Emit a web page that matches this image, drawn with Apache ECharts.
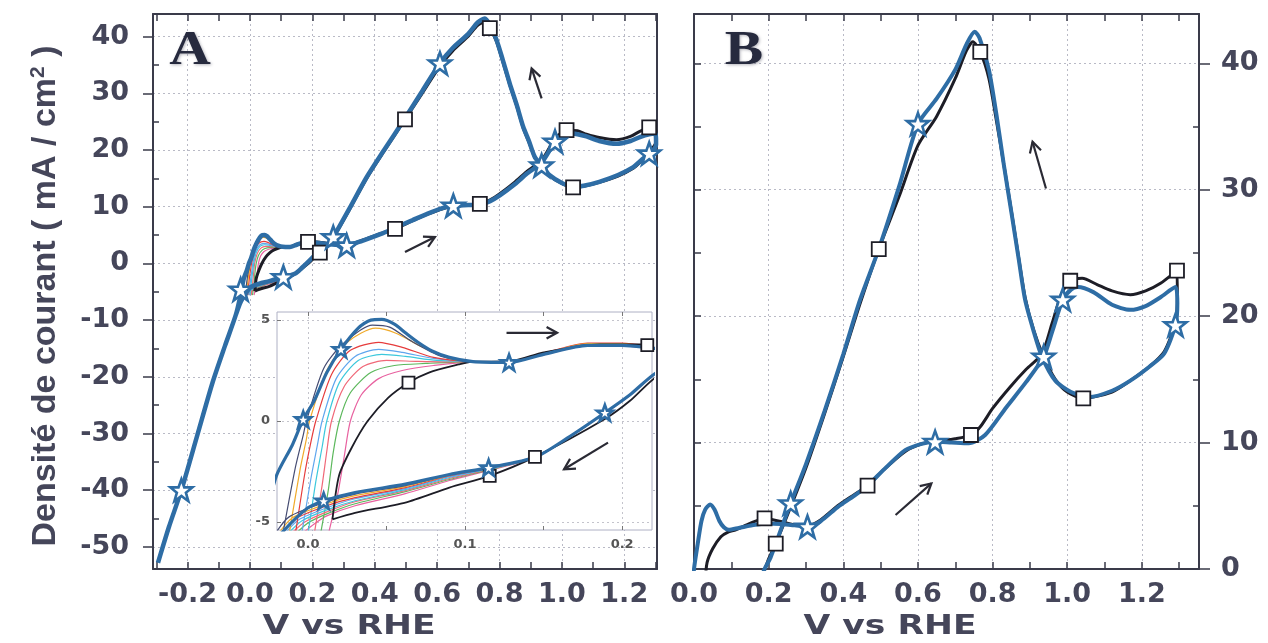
<!DOCTYPE html>
<html><head><meta charset="utf-8">
<script src="https://cdn.jsdelivr.net/npm/echarts@6/dist/echarts.min.js"></script>
<style>html,body{margin:0;padding:0;background:#fff}#c{width:1268px;height:643px}</style>
</head><body><div id="c"></div>
<script>
// ---------------- DATA ----------------
// Panel A ticks / labels
const A_XLABELS = [-0.2, 0.0, 0.2, 0.4, 0.6, 0.8, 1.0, 1.2];
const A_XTICKS = [-0.3, -0.2, -0.1, 0.0, 0.1, 0.2, 0.3, 0.4, 0.5, 0.6, 0.7, 0.8, 0.9, 1.0, 1.1, 1.2, 1.3];
const A_YLABELS = [-50, -40, -30, -20, -10, 0, 10, 20, 30, 40];
const A_YMINOR = [-45, -35, -25, -15, -5, 5, 15, 25, 35];
// Panel B ticks / labels
const B_XLABELS = [0.0, 0.2, 0.4, 0.6, 0.8, 1.0, 1.2];
const B_XTICKS = [0.1, 0.2, 0.3, 0.4, 0.5, 0.6, 0.7, 0.8, 0.9, 1.0, 1.1, 1.2, 1.3];
const B_YLABELS = [0, 10, 20, 30, 40];
const B_YMINOR = [5, 15, 25, 35];
const B_YLEFT = [5, 10, 15, 20, 25, 30, 35, 40];
const B_YGRID = [10, 20, 30, 40];
// Inset ticks / labels
const IN_XLABELS = [0.0, 0.1, 0.2];
const IN_XTICKS = [0.0, 0.05, 0.1, 0.15, 0.2];
const IN_YLABELS = [-5, 0, 5];

// Panel A: final cycle (blue) and first cycle (black), [V, mA/cm2]
const A_BLUE = [[-0.295,-52.8],[-0.26,-46.5],[-0.22,-40.0],[-0.17,-30.5],[-0.12,-21.0],[-0.08,-14.5],[-0.045,-9.0],[-0.03,-5.5],[-0.02,-2.7],[-0.01,-1.2],[-0.003,0.08],[0.004,1.0],[0.012,2.4],[0.021,3.55],[0.032,4.6],[0.040,5.0],[0.047,5.03],[0.055,4.8],[0.062,4.37],[0.070,3.9],[0.079,3.47],[0.090,3.15],[0.105,2.94],[0.128,2.9],[0.150,3.3],[0.178,3.75],[0.20,3.75],[0.22,3.6],[0.25,3.4],[0.31,3.18],[0.36,4.0],[0.42,5.2],[0.465,6.3],[0.52,7.6],[0.57,8.8],[0.62,9.8],[0.652,10.2],[0.70,10.3],[0.737,10.4],[0.77,11.0],[0.801,12.0],[0.85,14.0],[0.887,15.8],[0.935,17.8],[0.978,21.5],[1.0,22.6],[1.02,23.0],[1.05,22.8],[1.079,22.4],[1.12,21.6],[1.175,21.1],[1.22,21.6],[1.25,22.3],[1.28,22.8],[1.30,22.9],[1.302,21.0],[1.29,19.7],[1.28,19.4],[1.25,18.0],[1.229,17.0],[1.18,15.6],[1.12,14.4],[1.07,13.7],[1.036,13.5],[1.0,14.2],[0.96,15.6],[0.935,17.3],[0.913,18.8],[0.895,21.5],[0.876,24.1],[0.855,28.0],[0.833,31.7],[0.81,36.0],[0.79,39.5],[0.77,42.0],[0.753,43.2],[0.73,42.5],[0.70,40.5],[0.65,38.0],[0.609,35.3],[0.55,30.2],[0.497,25.6],[0.43,20.0],[0.374,15.2],[0.32,9.8],[0.267,4.65],[0.245,3.1],[0.222,2.4],[0.205,1.3],[0.189,0.41],[0.165,-0.85],[0.145,-1.78],[0.115,-2.31],[0.09,-2.65],[0.062,-3.13],[0.030,-3.55],[0.010,-3.96],[0.0,-4.3],[-0.015,-5.4],[-0.03,-6.8],[-0.045,-9.0]];
const A_BLACK = [[0.0156,-4.87],[0.0198,-2.7],[0.028,-1.3],[0.038,0.0],[0.051,1.15],[0.064,1.9],[0.077,2.4],[0.096,2.8],[0.105,2.94],[0.128,2.95],[0.15,3.4],[0.186,3.8],[0.215,3.8],[0.25,3.5],[0.31,3.3],[0.36,4.1],[0.42,5.3],[0.465,6.1],[0.52,7.5],[0.57,8.7],[0.62,9.7],[0.652,10.1],[0.70,10.3],[0.737,10.5],[0.77,11.2],[0.801,12.3],[0.85,14.4],[0.887,16.2],[0.935,18.2],[0.978,22.0],[1.015,23.5],[1.05,23.4],[1.079,22.8],[1.12,22.2],[1.175,21.8],[1.22,22.4],[1.25,23.3],[1.28,24.0],[1.30,24.2],[1.302,21.5],[1.28,19.6],[1.25,17.8],[1.229,16.8],[1.18,15.4],[1.12,14.3],[1.07,13.6],[1.036,13.4],[1.0,14.1],[0.96,15.5],[0.935,17.2],[0.913,18.7],[0.895,21.3],[0.876,23.9],[0.855,27.8],[0.833,31.5],[0.81,35.7],[0.79,39.2],[0.769,41.5],[0.753,42.6],[0.73,42.0],[0.70,40.1],[0.65,37.5],[0.609,34.8],[0.55,29.8],[0.497,25.4],[0.43,19.8],[0.374,15.0],[0.32,9.6],[0.267,4.5],[0.245,2.9],[0.222,2.2],[0.205,1.0],[0.189,0.1],[0.1445,-1.78],[0.1157,-2.72],[0.09,-3.3],[0.062,-4.04],[0.03,-4.55],[0.0156,-4.87]];
const A_STARS = [[-0.22,-40.0],[-0.03,-4.6],[0.107,-2.4],[0.267,4.65],[0.31,3.18],[0.609,35.3],[0.652,10.2],[0.935,17.3],[0.978,21.5],[1.28,19.4]];
const A_SQUARES = [[0.186,3.8],[0.224,1.9],[0.465,6.1],[0.497,25.4],[0.737,10.5],[0.769,41.5],[1.015,23.5],[1.036,13.4],[1.28,24.0]];

// Intermediate cycles (hydrogen region), shown in inset and panel A
const CYC_PINK = [[0.013,-5.6],[0.019,-3.6],[0.023,-1.8],[0.027,0.0],[0.034,1.3],[0.045,2.1],[0.06,2.5],[0.08,2.75],[0.105,2.93],[0.128,2.93],[0.15,3.28],[0.178,3.72],[0.2,3.72],[0.222,3.58],[0.24,3.5],[0.24,3.1],[0.222,2.38],[0.205,1.28],[0.189,0.38],[0.165,-0.88],[0.145,-1.8],[0.115,-2.45],[0.09,-2.95],[0.062,-3.6],[0.03,-4.2],[0.012,-4.7],[0.004,-5.1],[-0.004,-5.6]];
const CYC_GREEN = [[0.008,-5.6],[0.013,-3.4],[0.016,-1.6],[0.02,0.0],[0.027,1.4],[0.04,2.4],[0.055,2.75],[0.075,2.85],[0.105,2.94],[0.128,2.94],[0.15,3.3],[0.178,3.76],[0.2,3.76],[0.222,3.62],[0.24,3.5],[0.24,3.1],[0.222,2.4],[0.205,1.3],[0.189,0.4],[0.165,-0.86],[0.145,-1.79],[0.115,-2.42],[0.09,-2.9],[0.062,-3.5],[0.03,-4.1],[0.012,-4.6],[0.0,-5.05],[-0.008,-5.6]];
const CYC_LRED = [[0.004,-5.6],[0.009,-3.2],[0.012,-1.5],[0.015,0.0],[0.023,1.7],[0.035,2.7],[0.05,3.0],[0.07,2.95],[0.09,2.93],[0.105,2.94],[0.128,2.92],[0.15,3.32],[0.178,3.78],[0.2,3.78],[0.222,3.62],[0.24,3.5],[0.24,3.1],[0.222,2.4],[0.205,1.3],[0.189,0.4],[0.165,-0.86],[0.145,-1.79],[0.115,-2.4],[0.09,-2.85],[0.062,-3.45],[0.03,-4.0],[0.012,-4.5],[-0.002,-5.0],[-0.011,-5.6]];
const CYC_CYAN = [[0.0,-5.6],[0.005,-3.0],[0.009,-1.3],[0.012,0.0],[0.02,1.9],[0.032,3.0],[0.047,3.3],[0.062,3.2],[0.082,3.0],[0.105,2.94],[0.128,2.9],[0.15,3.3],[0.178,3.8],[0.2,3.8],[0.222,3.64],[0.24,3.5],[0.24,3.1],[0.222,2.4],[0.205,1.3],[0.189,0.4],[0.165,-0.85],[0.145,-1.78],[0.115,-2.38],[0.09,-2.8],[0.062,-3.4],[0.03,-3.95],[0.012,-4.4],[-0.004,-4.95],[-0.013,-5.6]];
const CYC_LBLUE = [[-0.004,-5.6],[0.002,-2.8],[0.006,-1.2],[0.009,0.0],[0.018,2.1],[0.03,3.2],[0.045,3.55],[0.06,3.4],[0.08,3.1],[0.105,2.94],[0.128,2.9],[0.15,3.32],[0.178,3.82],[0.2,3.82],[0.222,3.66],[0.24,3.5],[0.24,3.1],[0.222,2.4],[0.205,1.3],[0.189,0.4],[0.165,-0.85],[0.145,-1.78],[0.115,-2.36],[0.09,-2.76],[0.062,-3.35],[0.03,-3.85],[0.012,-4.3],[-0.006,-4.9],[-0.015,-5.6]];
const CYC_RED = [[-0.008,-5.6],[-0.002,-2.6],[0.002,-1.0],[0.005,0.0],[0.015,2.3],[0.027,3.5],[0.045,3.9],[0.06,3.65],[0.08,3.15],[0.105,2.94],[0.128,2.92],[0.15,3.36],[0.178,3.86],[0.2,3.86],[0.222,3.68],[0.24,3.52],[0.24,3.1],[0.222,2.4],[0.205,1.3],[0.189,0.4],[0.165,-0.85],[0.145,-1.78],[0.115,-2.34],[0.09,-2.72],[0.062,-3.3],[0.03,-3.8],[0.012,-4.2],[-0.008,-4.85],[-0.017,-5.6]];
const CYC_ORANGE = [[-0.012,-5.6],[-0.005,-2.4],[-0.001,-0.9],[0.001,0.0],[0.012,2.5],[0.025,3.9],[0.043,4.6],[0.056,4.35],[0.072,3.7],[0.09,3.1],[0.105,2.94],[0.128,2.9],[0.15,3.34],[0.178,3.84],[0.2,3.84],[0.222,3.66],[0.24,3.5],[0.24,3.1],[0.222,2.4],[0.205,1.3],[0.189,0.4],[0.165,-0.85],[0.145,-1.78],[0.115,-2.33],[0.09,-2.69],[0.062,-3.25],[0.03,-3.7],[0.012,-4.1],[-0.01,-4.8],[-0.019,-5.6]];
const CYC_DARK = [[-0.016,-5.6],[-0.008,-2.3],[-0.003,-0.7],[-0.001,0.0],[0.01,2.6],[0.022,3.8],[0.041,4.75],[0.052,4.65],[0.066,3.95],[0.085,3.2],[0.105,2.94],[0.128,2.9],[0.15,3.3],[0.178,3.78],[0.2,3.78],[0.222,3.62],[0.24,3.5],[0.24,3.1],[0.222,2.4],[0.205,1.3],[0.189,0.4],[0.165,-0.85],[0.145,-1.78],[0.115,-2.32],[0.09,-2.67],[0.062,-3.2],[0.03,-3.62],[0.012,-4.0],[-0.012,-4.75],[-0.021,-5.6]];
const CYCLES = [CYC_PINK, CYC_GREEN, CYC_LRED, CYC_CYAN, CYC_LBLUE, CYC_RED, CYC_ORANGE, CYC_DARK];
const CYCLE_COLORS = ['#e862a0', '#5cb85c', '#f06878', '#3cc8dc', '#5fa6ee', '#e63c3c', '#f0aa2a', '#454c72'];
const IN_STARS = [[0.021,3.55],[-0.003,0.08],[0.128,2.9],[0.189,0.41],[0.115,-2.31],[0.010,-3.96]];
const IN_SQUARES = [[0.064,1.9],[0.216,3.76],[0.1445,-1.78],[0.1157,-2.72]];

// Panel B: two curves
const B_BLUE = [[-0.004,-1.5],[0.0,0.0],[0.01,2.0],[0.02,3.8],[0.03,4.7],[0.043,5.1],[0.055,4.7],[0.068,3.8],[0.08,3.3],[0.093,3.1],[0.12,3.25],[0.164,3.5],[0.20,3.6],[0.233,3.55],[0.27,3.45],[0.304,3.35],[0.34,3.8],[0.385,4.9],[0.43,5.8],[0.465,6.6],[0.51,7.9],[0.566,9.4],[0.61,9.9],[0.646,10.06],[0.69,10.0],[0.736,9.94],[0.78,10.6],[0.837,12.8],[0.89,14.8],[0.937,16.8],[0.96,18.8],[0.988,21.3],[1.01,22.1],[1.028,22.3],[1.07,21.9],[1.12,20.9],[1.169,20.5],[1.21,20.8],[1.25,21.5],[1.29,22.3],[1.295,21.0],[1.29,19.3],[1.26,17.05],[1.22,16.0],[1.169,14.9],[1.12,14.1],[1.058,13.6],[1.01,14.0],[0.968,14.9],[0.932,16.8],[0.91,18.8],[0.887,21.3],[0.87,24.5],[0.852,27.9],[0.83,32.0],[0.81,36.0],[0.79,39.5],[0.765,42.0],[0.752,42.5],[0.73,41.5],[0.70,39.5],[0.65,37.2],[0.60,35.2],[0.55,30.3],[0.495,25.3],[0.445,21.3],[0.40,17.0],[0.35,12.5],[0.30,8.3],[0.259,5.2],[0.23,2.9],[0.205,0.9],[0.189,0.0],[0.17,-1.5]];
const B_BLACK = [[0.03,-1.0],[0.035,0.5],[0.05,1.6],[0.072,2.55],[0.09,2.9],[0.112,3.1],[0.15,3.6],[0.189,4.0],[0.233,3.75],[0.27,3.5],[0.304,3.4],[0.34,3.9],[0.385,5.0],[0.43,5.9],[0.465,6.6],[0.51,7.9],[0.566,9.3],[0.61,9.9],[0.65,10.1],[0.70,10.3],[0.742,10.6],[0.767,11.25],[0.80,12.7],[0.847,14.4],[0.89,15.8],[0.932,17.0],[0.96,19.5],[0.985,21.8],[1.008,22.8],[1.04,23.0],[1.08,22.5],[1.12,22.0],[1.169,21.7],[1.21,22.0],[1.25,22.6],[1.294,23.6],[1.295,21.5],[1.29,19.5],[1.26,17.2],[1.22,16.0],[1.169,14.9],[1.12,14.0],[1.043,13.5],[1.0,14.0],[0.968,15.0],[0.935,16.9],[0.91,18.9],[0.887,21.5],[0.87,24.6],[0.852,28.0],[0.83,32.0],[0.81,35.5],[0.79,38.8],[0.767,40.9],[0.747,41.7],[0.73,41.0],[0.70,38.8],[0.65,35.8],[0.60,33.5],[0.55,29.5],[0.495,25.3],[0.445,21.0],[0.40,16.8],[0.35,12.3],[0.30,8.0],[0.259,4.9],[0.219,2.0],[0.20,0.8],[0.185,-0.5]];
const B_STARS = [[0.304,3.35],[0.259,5.2],[0.60,35.2],[0.646,10.06],[0.937,16.8],[0.988,21.3],[1.29,19.3]];
const B_SQUARES = [[0.189,4.0],[0.219,2.0],[0.465,6.6],[0.495,25.3],[0.742,10.6],[0.767,40.9],[1.008,22.8],[1.043,13.5],[1.294,23.6]];

// Scan-direction arrows (annotations, data coordinates: tail -> head)
const ARROWS = [
  {x: 0, y: 0, from: [0.935, 29.1], to: [0.903, 34.4]},
  {x: 0, y: 0, from: [0.497, 2.0], to: [0.593, 4.65]},
  {x: 6, y: 8, from: [0.1264, 4.37], to: [0.1586, 4.37]},
  {x: 6, y: 8, from: [0.191, -1.07], to: [0.163, -2.39]},
  {x: 3, y: 4, from: [0.943, 30.1], to: [0.907, 33.8]},
  {x: 3, y: 4, from: [0.54, 4.27], to: [0.636, 6.77]}
];

// ---------------- STYLE ----------------
const AX = '#3a3b4a';
const TXT = '#45465a';
const GRIDC = '#b9bac6';
const BLUE = '#2e6da5';
const BLACK = '#1d1d26';
const FONT = "'DejaVu Sans'";
const STAR = 'path://M12,1 L15,9 L23.5,9 L16.7,14.2 L19.3,22.5 L12,17.4 L4.7,22.5 L7.3,14.2 L0.5,9 L9,9 Z';

function ax(grid, min, max, o) {
  return Object.assign({
    type: 'value', gridIndex: grid, min: min, max: max, scale: true,
    axisLine: {show: false, onZero: false},
    axisTick: {show: false},
    axisLabel: {show: false},
    splitLine: {show: false}
  }, o);
}
const LINE = {show: true, onZero: false, lineStyle: {color: AX, width: 2}};
const LBL = {show: true, color: TXT, fontFamily: FONT, fontWeight: 'bold', fontSize: 27};
const GL = {show: true, lineStyle: {color: GRIDC, width: 1, type: [2, 3]}};
const fx1 = v => v.toFixed(1);

const A_X = [-0.311, 1.305], A_Y = [-53.9, 44.0];
const B_X = [0, 1.353], B_Y = [0, 43.9];
const I_X = [-0.0197, 0.219], I_Y = [-5.4, 5.4];

const xAxes = [
  ax(0, A_X[0], A_X[1], {position: 'bottom', axisLine: LINE,
    axisTick: {show: true, inside: true, length: 7, customValues: A_XTICKS, lineStyle: {color: AX, width: 1.5}},
    axisLabel: Object.assign({customValues: A_XLABELS, formatter: fx1, margin: 12}, LBL)}),
  ax(0, A_X[0], A_X[1], {position: 'top', axisLine: LINE,
    axisTick: {show: true, inside: true, length: 7, customValues: A_XTICKS, lineStyle: {color: AX, width: 1.5}}}),
  ax(0, A_X[0], A_X[1], {position: 'bottom', axisTick: {show: false, customValues: A_XLABELS}, splitLine: GL}),
  ax(1, B_X[0], B_X[1], {position: 'bottom', axisLine: LINE,
    axisTick: {show: true, inside: true, length: 7, customValues: B_XTICKS, lineStyle: {color: AX, width: 1.5}},
    axisLabel: Object.assign({customValues: B_XLABELS, formatter: fx1, margin: 12}, LBL)}),
  ax(1, B_X[0], B_X[1], {position: 'top', axisLine: LINE,
    axisTick: {show: true, inside: true, length: 7, customValues: B_XTICKS, lineStyle: {color: AX, width: 1.5}}}),
  ax(1, B_X[0], B_X[1], {position: 'bottom', axisTick: {show: false, customValues: B_XLABELS.slice(1)}, splitLine: GL}),
  ax(2, I_X[0], I_X[1], {position: 'bottom', z: 6,
    axisTick: {show: true, inside: true, length: 4, customValues: IN_XTICKS, lineStyle: {color: '#777', width: 1}},
    axisLabel: {show: true, customValues: IN_XLABELS, formatter: fx1, margin: 8, color: '#555', fontFamily: FONT, fontWeight: 'bold', fontSize: 13}}),
  ax(2, I_X[0], I_X[1], {position: 'bottom', z: 6, axisTick: {show: false, customValues: IN_XLABELS}, splitLine: {show: true, lineStyle: {color: '#c4c4cc', width: 1, type: [2, 3]}}}),
  ax(2, I_X[0], I_X[1], {position: 'top', z: 6,
    axisTick: {show: true, inside: true, length: 4, customValues: IN_XTICKS, lineStyle: {color: '#777', width: 1}}})
];

const yAxes = [
  ax(0, A_Y[0], A_Y[1], {position: 'left', axisLine: LINE,
    axisTick: {show: true, inside: false, length: 10, customValues: A_YLABELS, lineStyle: {color: AX, width: 1.5}},
    axisLabel: Object.assign({customValues: A_YLABELS, margin: 24}, LBL)}),
  ax(0, A_Y[0], A_Y[1], {position: 'left',
    axisTick: {show: true, inside: true, length: 6, customValues: A_YMINOR, lineStyle: {color: AX, width: 1.5}}}),
  ax(0, A_Y[0], A_Y[1], {position: 'right', axisLine: LINE}),
  ax(0, A_Y[0], A_Y[1], {position: 'left', axisTick: {show: false, customValues: A_YLABELS}, splitLine: GL}),
  ax(1, B_Y[0], B_Y[1], {position: 'right', axisLine: LINE,
    axisTick: {show: true, inside: false, length: 11, customValues: B_YLABELS, lineStyle: {color: AX, width: 1.5}},
    axisLabel: Object.assign({customValues: B_YLABELS, margin: 22}, LBL)}),
  ax(1, B_Y[0], B_Y[1], {position: 'right',
    axisTick: {show: true, inside: true, length: 6, customValues: B_YMINOR, lineStyle: {color: AX, width: 1.5}}}),
  ax(1, B_Y[0], B_Y[1], {position: 'left', axisLine: LINE,
    axisTick: {show: true, inside: true, length: 7, customValues: B_YLEFT, lineStyle: {color: AX, width: 1.5}}}),
  ax(1, B_Y[0], B_Y[1], {position: 'left', axisTick: {show: false, customValues: B_YGRID}, splitLine: GL}),
  ax(2, I_Y[0], I_Y[1], {position: 'left', z: 6,
    axisTick: {show: true, inside: true, length: 4, customValues: IN_YLABELS, lineStyle: {color: '#777', width: 1}},
    axisLabel: {show: true, customValues: IN_YLABELS, margin: 7, color: '#555', fontFamily: FONT, fontWeight: 'bold', fontSize: 13},
    splitLine: {show: true, lineStyle: {color: '#c4c4cc', width: 1, type: [2, 3]}}})
];

function line(data, xi, yi, color, width, z) {
  return {type: 'line', data: data, xAxisIndex: xi, yAxisIndex: yi, showSymbol: false, symbol: 'none',
    smooth: 0.25, lineStyle: {color: color, width: width}, z: z, silent: true, animation: false, clip: true};
}
function marks(data, xi, yi, kind, size, z) {
  const star = kind === 'star';
  return {type: 'scatter', data: data, xAxisIndex: xi, yAxisIndex: yi, symbol: star ? STAR : 'rect',
    symbolSize: size, z: z, silent: true, animation: false,
    itemStyle: {color: '#ffffff', opacity: 1, borderColor: star ? BLUE : BLACK, borderWidth: star ? 2.6 : 1.8}};
}

const series = [];
CYCLES.forEach((c, i) => series.push(line(c, 0, 0, CYCLE_COLORS[i], 1.2, 1)));
series.push(line(A_BLACK, 0, 0, BLACK, 3, 2));
series.push(line(A_BLUE, 0, 0, BLUE, 4.5, 3));
series.push(marks(A_SQUARES, 0, 0, 'rect', 14, 4));
series.push(marks(A_STARS, 0, 0, 'star', 22, 4));
series.push(line(B_BLACK, 3, 4, BLACK, 3, 2));
series.push(line(B_BLUE, 3, 4, BLUE, 4, 3));
series.push(marks(B_SQUARES, 3, 4, 'rect', 14, 4));
series.push(marks(B_STARS, 3, 4, 'star', 22, 4));
CYCLES.forEach((c, i) => series.push(line(c, 6, 8, CYCLE_COLORS[i], 1.2, 7)));
series.push(line(A_BLACK, 6, 8, BLACK, 1.8, 7));
series.push(line(A_BLUE, 6, 8, BLUE, 3.2, 8));
series.push(marks(IN_SQUARES, 6, 8, 'rect', 12, 9));
series.push(marks(IN_STARS, 6, 8, 'star', 16, 9));

const chart = echarts.init(document.getElementById('c'), null, {renderer: 'canvas', width: 1268, height: 643});
chart.setOption({
  animation: false,
  backgroundColor: '#ffffff',
  grid: [
    {left: 153, top: 14, width: 504, height: 555, z: 0},
    {left: 694, top: 14, width: 505, height: 555, z: 0},
    {left: 277, top: 312, width: 375, height: 218, show: true, backgroundColor: '#ffffff', borderColor: '#aeb0c4', borderWidth: 1, z: 5}
  ],
  xAxis: xAxes,
  yAxis: yAxes,
  series: series
});

// text + arrows
const graphics = [
  {type: 'text', x: 46, y: 296, rotation: Math.PI / 2, z: 20,
    style: {text: 'Densité de courant ( mA / cm{sup|2} )', fill: TXT, fontFamily: "'Liberation Sans'", fontWeight: 'bold', fontSize: 34,
      align: 'center', verticalAlign: 'middle', lineHeight: 36,
      rich: {sup: {fontSize: 21, fontFamily: "'Liberation Sans'", fontWeight: 'bold', fill: TXT, verticalAlign: 'top', lineHeight: 36}}}},
  {type: 'text', x: 349, y: 627, scaleX: 1.28, z: 20,
    style: {text: 'V vs RHE', fill: TXT, fontFamily: FONT, fontWeight: 'bold', fontSize: 27, align: 'center', verticalAlign: 'middle'}},
  {type: 'text', x: 890, y: 627, scaleX: 1.28, z: 20,
    style: {text: 'V vs RHE', fill: TXT, fontFamily: FONT, fontWeight: 'bold', fontSize: 27, align: 'center', verticalAlign: 'middle'}},
  {type: 'text', x: 190, y: 52, scaleX: 1.2, z: 20,
    style: {text: 'A', fill: '#262a3e', fontFamily: "'Liberation Serif'", fontWeight: 'bold', fontSize: 48, align: 'center', verticalAlign: 'middle',
      textShadowColor: 'rgba(40,40,60,0.35)', textShadowBlur: 3, textShadowOffsetX: 1, textShadowOffsetY: 1}},
  {type: 'text', x: 744, y: 52, scaleX: 1.2, z: 20,
    style: {text: 'B', fill: '#262a3e', fontFamily: "'Liberation Serif'", fontWeight: 'bold', fontSize: 48, align: 'center', verticalAlign: 'middle',
      textShadowColor: 'rgba(40,40,60,0.35)', textShadowBlur: 3, textShadowOffsetX: 1, textShadowOffsetY: 1}}
];
ARROWS.forEach(a => {
  const p1 = chart.convertToPixel({xAxisIndex: a.x, yAxisIndex: a.y}, a.from);
  const p2 = chart.convertToPixel({xAxisIndex: a.x, yAxisIndex: a.y}, a.to);
  const dx = p2[0] - p1[0], dy = p2[1] - p1[1];
  const len = Math.sqrt(dx * dx + dy * dy) || 1;
  const ux = dx / len, uy = dy / len;
  const h = 12, ang = 0.5;
  const c = Math.cos(ang), s = Math.sin(ang);
  const l1 = [p2[0] - h * (ux * c - uy * s), p2[1] - h * (uy * c + ux * s)];
  const l2 = [p2[0] - h * (ux * c + uy * s), p2[1] - h * (uy * c - ux * s)];
  graphics.push({type: 'polyline', z: 20, silent: true, shape: {points: [p1, p2]}, style: {stroke: '#2a2a34', lineWidth: 2.2, fill: null}});
  graphics.push({type: 'polyline', z: 20, silent: true, shape: {points: [l1, p2, l2]}, style: {stroke: '#2a2a34', lineWidth: 2.2, fill: null}});
});
chart.setOption({graphic: graphics});
</script></body></html>
